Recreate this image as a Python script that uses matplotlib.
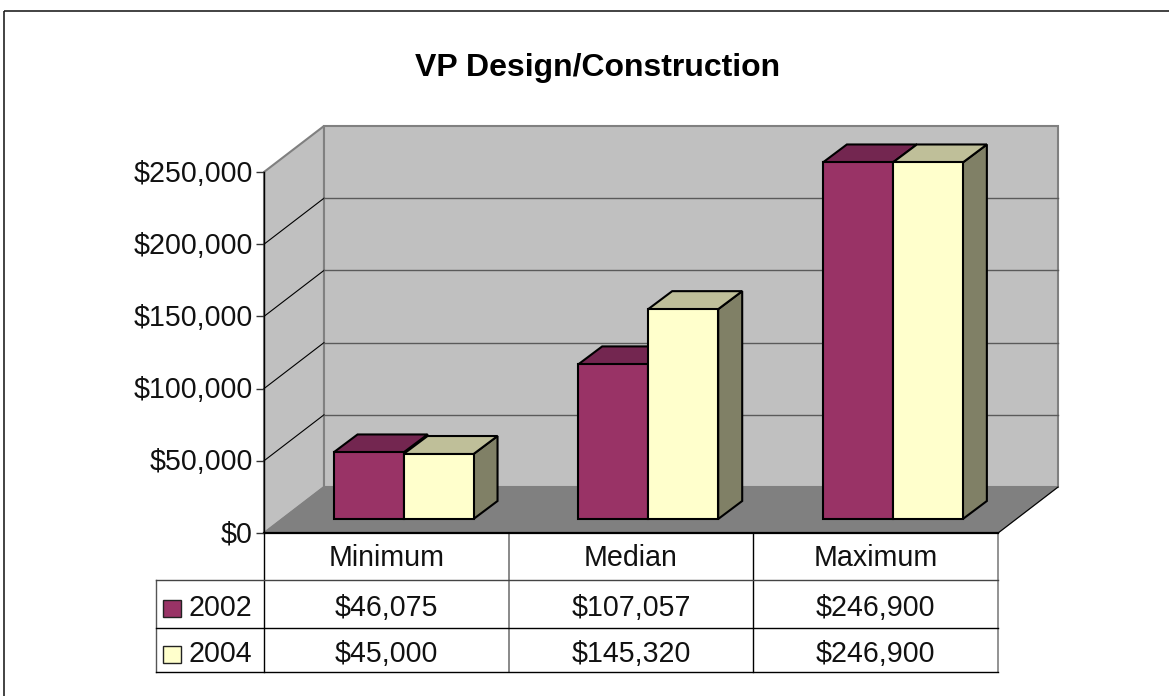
import matplotlib
matplotlib.use("Agg")
import matplotlib.pyplot as plt
from matplotlib.patches import Polygon, Rectangle
from matplotlib.ticker import FuncFormatter
from matplotlib.transforms import ScaledTranslation

plt.rcParams['font.family'] = ['Liberation Sans', 'DejaVu Sans']

categories = ['Minimum', 'Median', 'Maximum']
years = ['2002', '2004']
values_2002 = [46075, 107057, 246900]
values_2004 = [45000, 145320, 246900]
ticks = [0, 50000, 100000, 150000, 200000, 250000]

W, H = 1169, 696
# front plane of the chart box, in pixels
left, right, top, bottom = 264, 998, 172, 533
ymax = 250000

fig = plt.figure(figsize=(W / 100, H / 100), dpi=100, facecolor='white')

# pixel overlay for frame and data table
bg = fig.add_axes([0, 0, 1, 1])
bg.set_xlim(0, W)
bg.set_ylim(H, 0)
bg.axis('off')

ax = fig.add_axes([left / W, 1 - bottom / H, (right - left) / W, (bottom - top) / H])
ax.set_xlim(0, 3)
ax.set_ylim(0, ymax)
ax.patch.set_visible(False)
for s in ['top', 'right', 'bottom']:
    ax.spines[s].set_visible(False)
ax.spines['left'].set_linewidth(1)
ax.set_xticks([])
ax.set_yticks(ticks)
ax.yaxis.set_major_formatter(FuncFormatter(lambda v, p: '${:,.0f}'.format(v)))
ax.tick_params(axis='y', length=6, width=1, pad=2, labelsize=20.6, color='#333333')
nudge = ScaledTranslation(0, 1.5 / 100, fig.dpi_scale_trans)
for lab in ax.get_yticklabels():
    lab.set_color('#111111')
    lab.set_transform(lab.get_transform() + nudge)

# pixel offsets to data units
ux = 3 / (right - left)
uy = ymax / (bottom - top)
box_dx, box_dy = 60 * ux, 46 * uy
bar_dx, bar_dy = 24 * ux, 18 * uy
front_dx, front_dy = 17.2 * ux, 14 * uy
bar_w = 70 * ux


def poly(pts, fc, ec='black', lw=1.5, z=3):
    ax.add_patch(Polygon(pts, closed=True, facecolor=fc, edgecolor=ec, linewidth=lw,
                         zorder=z, clip_on=False, joinstyle='miter'))


# walls and floor
poly([(0, 0), (box_dx, box_dy), (box_dx, ymax + box_dy), (0, ymax)], '#C0C0C0', '#808080', 1.5, 1)
poly([(box_dx, box_dy), (3 + box_dx, box_dy), (3 + box_dx, ymax + box_dy), (box_dx, ymax + box_dy)],
     '#C0C0C0', '#808080', 1.5, 1)
poly([(0, 0), (3, 0), (3 + box_dx, box_dy), (box_dx, box_dy)], '#808080', '#808080', 1, 1.1)
ax.plot([3, 3 + box_dx], [0, box_dy], color='black', lw=0.8, zorder=1.2, clip_on=False)
ax.plot([0, 3], [0, 0], color='black', lw=1.6, zorder=1.3, clip_on=False)

# gridlines
for t in ticks[1:-1]:
    ax.plot([0, box_dx], [t, t + box_dy], color='black', lw=0.8, zorder=1.2, clip_on=False)
    ax.plot([box_dx, 3 + box_dx], [t + box_dy, t + box_dy], color='#5A5A5A', lw=1, zorder=1.2, clip_on=False)

# bars
styles = [('#993366', '#732650', '#4D1A33'), ('#FFFFCC', '#BFBF99', '#808066')]
for i in range(len(categories)):
    for j, vals in enumerate([values_2002, values_2004]):
        front, topc, side = styles[j]
        x0 = i + 0.5 + front_dx + (j - 1) * bar_w
        x1 = x0 + bar_w
        y0 = front_dy
        y1 = y0 + vals[i]
        poly([(x1, y0), (x1 + bar_dx, y0 + bar_dy), (x1 + bar_dx, y1 + bar_dy), (x1, y1)], side)
        poly([(x0, y1), (x1, y1), (x1 + bar_dx, y1 + bar_dy), (x0 + bar_dx, y1 + bar_dy)], topc)
        poly([(x0, y0), (x1, y0), (x1, y1), (x0, y1)], front, z=3.1 + j * 0.1)

# outer frame, right and bottom sides run off the picture
bg.add_patch(Rectangle((4, 10.5), 1200, 720, facecolor='none', edgecolor='#222222', linewidth=1.2))

# title
bg.text(598, 68, 'VP Design/Construction', ha='center', va='center', fontsize=23, fontweight='bold')

# data table
col_x = [264, 509, 753, 998]
row_y = [533, 580, 628, 672]
table_left = 155.5
bg.plot([left, left], [row_y[0], row_y[-1]], color='black', lw=1)
bg.plot([col_x[1], col_x[1]], [row_y[0], row_y[-1]], color='#808080', lw=1.3)
bg.plot([col_x[2], col_x[2]], [row_y[0], row_y[-1]], color='black', lw=1)
bg.plot([col_x[3], col_x[3]], [row_y[0], row_y[-1]], color='#808080', lw=1.2)
bg.plot([table_left, table_left], [row_y[1], row_y[-1]], color='#555555', lw=1)
bg.plot([table_left, right], [row_y[1], row_y[1]], color='#444444', lw=1)
for y in row_y[2:]:
    bg.plot([table_left, right], [y, y], color='black', lw=1)

rows = [categories,
        ['${:,}'.format(v) for v in values_2002],
        ['${:,}'.format(v) for v in values_2004]]
row_shift = [2, 4, 4]
for r, row in enumerate(rows):
    yc = (row_y[r] + row_y[r + 1]) / 2 + row_shift[r]
    for c, txt in enumerate(row):
        bg.text((col_x[c] + col_x[c + 1]) / 2, yc, txt, ha='center', va='center',
                fontsize=20.6, color='#111111')

# legend keys inside the table
for r, (yr, st) in enumerate(zip(years, styles)):
    yc = (row_y[r + 1] + row_y[r + 2]) / 2 + 4.5
    bg.add_patch(Rectangle((163, yc - 8.5), 17.5, 17, facecolor=st[0], edgecolor='#222222', linewidth=1))
    bg.text(189, yc, yr, ha='left', va='center', fontsize=20.6, color='#111111')

fig.savefig('out.png', dpi=100)
